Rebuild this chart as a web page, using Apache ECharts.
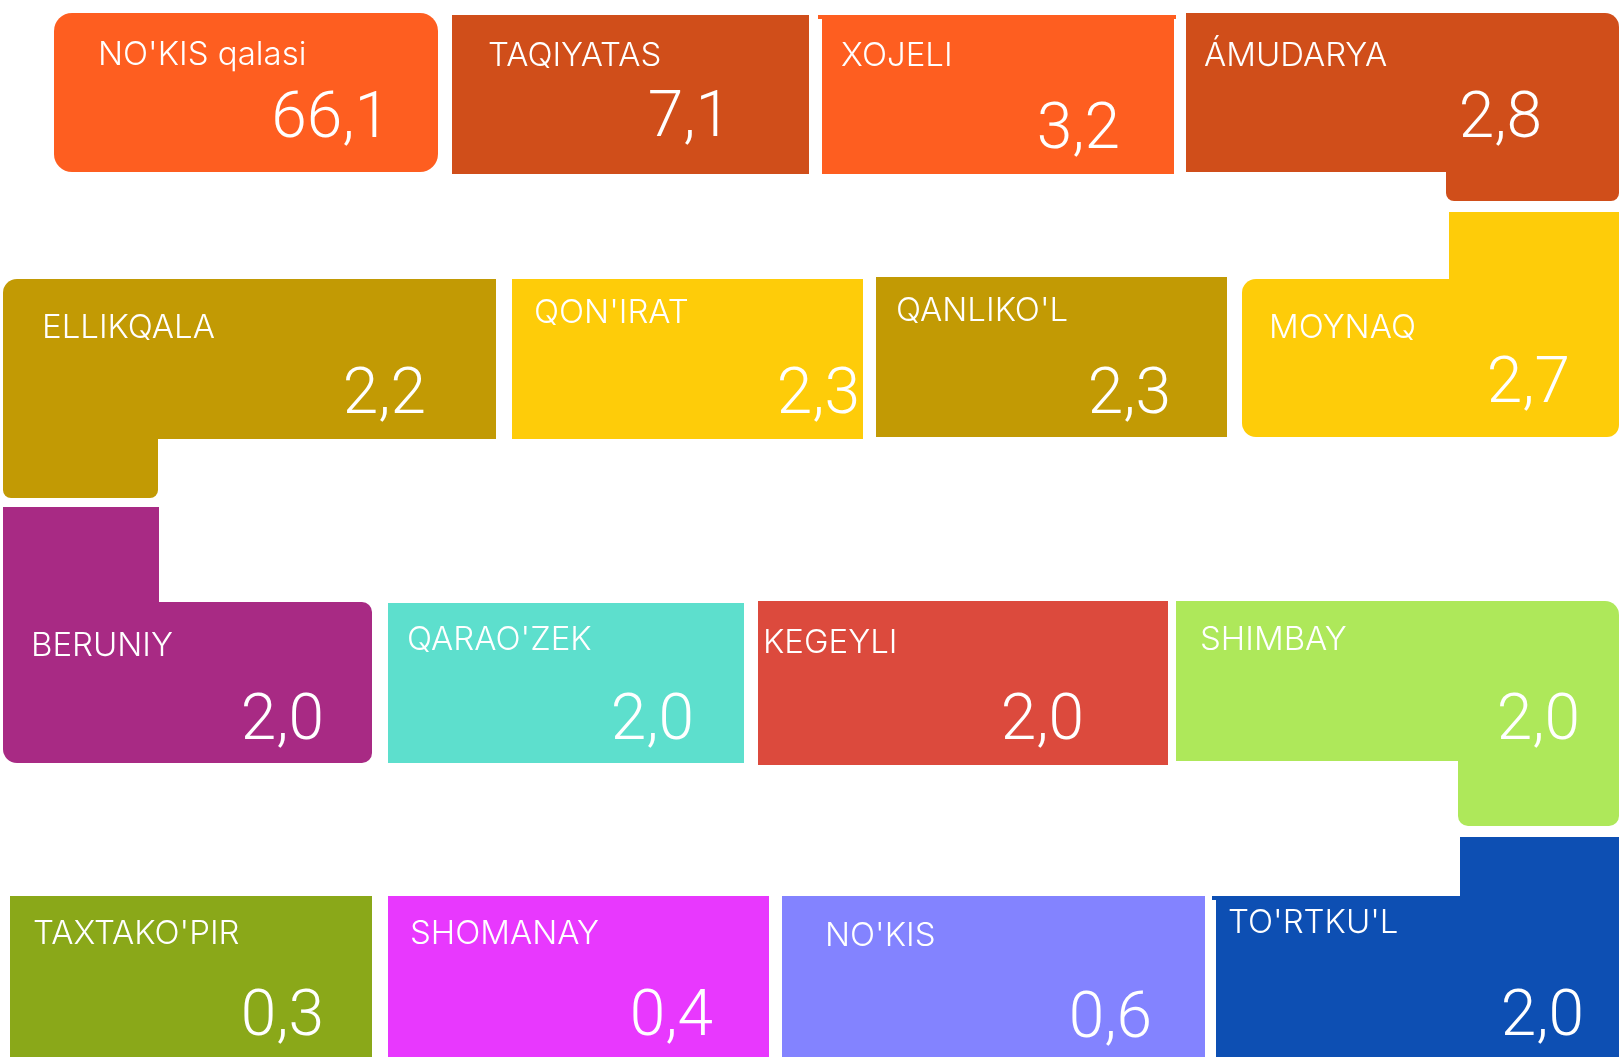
<!DOCTYPE html>
<html>
<head>
<meta charset="utf-8">
<script src="https://cdn.jsdelivr.net/npm/echarts@6/dist/echarts.min.js"></script>
<style>
    html, body {margin: 0; padding: 0; background: #ffffff;}
    #tiles {width: 1619px; height: 1057px;}
</style>
</head>
<body>
<div id="tiles"></div>
<script>

// district names and their values
var names = ["NO'KIS qalasi", "TAQIYATAS", "XOJELI", "ÁMUDARYA",
    "ELLIKQALA", "QON'IRAT", "QANLIKO'L", "MOYNAQ",
    "BERUNIY", "QARAO'ZEK", "KEGEYLI", "SHIMBAY",
    "TAXTAKO'PIR", "SHOMANAY", "NO'KIS", "TO'RTKU'L"];
var values = [66.1, 7.1, 3.2, 2.8,
    2.2, 2.3, 2.3, 2.7,
    2.0, 2.0, 2.0, 2.0,
    0.3, 0.4, 0.6, 2.0];
var colors = ['#FE5E20', '#D04E1A', '#FE5E20', '#D04E1A',
    '#C29A04', '#FECC09', '#C29A04', '#FECC09',
    '#A82A84', '#5DDFCD', '#DC4A3D', '#AEE85A',
    '#8AA819', '#E838FE', '#8383FF', '#0D4FB3'];

// layout: tile boxes [x0, y0, x1, y1] in page pixels, corner radii [tl, tr, br, bl]
var tileBox = [
    [54, 13, 438, 172], [452, 15, 809, 174], [822, 18, 1174, 174], [1186, 13, 1619, 172],
    [3, 279, 496, 439], [512, 279, 863, 439], [876, 277, 1227, 437], [1242, 279, 1619, 437],
    [3, 602, 372, 763], [388, 603, 744, 763], [758, 601, 1168, 765], [1176, 601, 1619, 761],
    [10, 896, 372, 1057], [388, 896, 769, 1057], [782, 896, 1205, 1057], [1216, 896, 1619, 1057]
];
var tileRadius = [
    [18, 18, 18, 18], [0, 0, 0, 0], [0, 0, 0, 0], [0, 14, 0, 0],
    [14, 0, 0, 0], [0, 0, 0, 0], [0, 0, 0, 0], [14, 0, 12, 14],
    [0, 10, 10, 14], [0, 0, 0, 0], [0, 0, 0, 0], [0, 14, 0, 0],
    [0, 0, 0, 0], [0, 0, 0, 0], [0, 0, 0, 0], [0, 0, 0, 0]
];
// connector pieces that snake from one row to the next
var extraBox = [
    [], [], [[818, 15, 1176, 19, 0]], [[1446, 170, 1619, 201, 8]],
    [[3, 437, 158, 498, 8]], [], [], [[1449, 212, 1619, 281, 0]],
    [[3, 507, 159, 604, 0]], [], [], [[1458, 759, 1619, 826, 10]],
    [], [], [], [[1460, 837, 1619, 898, 0], [1212, 896, 1460, 900, 0]]
];
// text anchors: label left / cap middle, value right / cap middle
var labelPos = [
    [98, 55], [488, 56], [841, 56], [1204, 56],
    [42, 328], [534, 313], [896, 311], [1269, 328],
    [31, 646], [407, 640], [763, 643], [1200, 640],
    [33, 934], [410, 934], [825, 936], [1228, 923]
];
var valuePos = [
    [390, 121], [731, 120], [1120, 132], [1542, 121],
    [426, 397], [860, 397], [1171, 397], [1570, 386],
    [324, 723], [694, 723], [1084, 723], [1580, 723],
    [324, 1019], [713, 1019], [1152, 1021], [1584, 1019]
];

var myChart = echarts.init(document.getElementById('tiles'));

function box(api, b, r, color) {
    var p0 = api.coord([b[0], b[1]]);
    var p1 = api.coord([b[2], b[3]]);
    return {
        type: 'rect',
        shape: {x: p0[0], y: p0[1], width: p1[0] - p0[0], height: p1[1] - p0[1], r: r},
        style: {fill: color}
    };
}

function renderTile(params, api) {
    var i = params.dataIndex;
    var kids = [];
    extraBox[i].forEach(function (e) {
        kids.push(box(api, e, e[4] ? [0, 0, e[4], e[4]] : 0, colors[i]));
    });
    kids.push(box(api, tileBox[i], tileRadius[i], colors[i]));

    var lp = api.coord(labelPos[i]);
    kids.push({
        type: 'text',
        style: {
            text: names[i], x: lp[0], y: lp[1],
            fill: '#ffffff', font: '300 33px Inter',
            align: 'left', verticalAlign: 'middle'
        }
    });
    var vp = api.coord(valuePos[i]);
    kids.push({
        type: 'text',
        style: {
            text: values[i].toFixed(1).replace('.', ','), x: vp[0], y: vp[1],
            fill: '#ffffff', font: '300 64px Roboto',
            align: 'right', verticalAlign: 'middle'
        }
    });
    return {type: 'group', children: kids};
}

option = {
    animation: false,
    grid: {left: 0, right: 0, top: 0, bottom: 0},
    xAxis: {type: 'value', min: 0, max: 1619, show: false},
    yAxis: {type: 'value', min: 0, max: 1057, inverse: true, show: false},
    series: [{
        type: 'custom',
        renderItem: renderTile,
        data: names.map(function (n, i) { return [i]; })
    }]
};

myChart.setOption(option);
</script>
</body>
</html>
